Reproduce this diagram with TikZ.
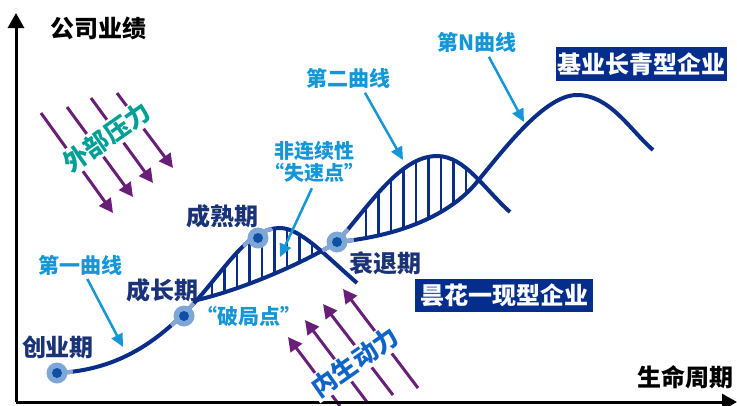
\documentclass[tikz,border=0pt]{standalone}
\usepackage{fontspec}
\setmainfont{Noto Sans CJK SC}
\usetikzlibrary{arrows.meta}

\definecolor{curveblue}{RGB}{10,45,135}
\definecolor{fadeblue}{RGB}{140,165,210}
\definecolor{dotlight}{RGB}{125,167,215}
\definecolor{dotdark}{RGB}{15,80,165}
\definecolor{stageblue}{RGB}{25,50,120}
\definecolor{noteblue}{RGB}{20,150,215}
\definecolor{forcepurple}{RGB}{105,30,120}
\definecolor{outerteal}{RGB}{0,160,150}
\definecolor{innerblue}{RGB}{15,100,200}
\definecolor{bannerblue}{RGB}{5,45,140}

% the three S-curves
\newcommand\firstcurve{(57,373) .. controls (120,370) and (160,340) .. (197,300) .. controls (230,262) and (250,228) .. (280,228) .. controls (300,228) and (325,255) .. (357,283)}
\newcommand\secondcurve{(197,300) .. controls (240,290) and (300,265) .. (337,242) .. controls (370,205) and (400,156) .. (437,156) .. controls (465,156) and (485,190) .. (510,212)}
\newcommand\nthcurve{(337,242) .. controls (400,236) and (450,215) .. (477,182) .. controls (505,148) and (545,95) .. (577,95) .. controls (610,95) and (630,130) .. (653,150)}

\begin{document}
\begin{tikzpicture}[x=1pt,y=-1pt,
    curve/.style={draw=curveblue,line width=4pt},
    fade/.style={draw=fadeblue,line width=4pt},
    hatch/.style={draw=curveblue,line width=2.4pt},
    stage/.style={text=stageblue,font=\fontsize{24}{26}\selectfont\bfseries,inner sep=1pt},
    note/.style={text=noteblue,font=\fontsize{21}{23}\selectfont\bfseries,inner sep=1pt,align=center},
    pointer/.style={draw=noteblue,line width=2.5pt,-{Triangle[length=13pt,width=12pt]}},
    force/.style={draw=forcepurple,line width=3pt,-{Triangle[length=14pt,width=14pt]}},
    stamp/.style={fill=white,font=\fontsize{25}{27}\selectfont\bfseries,rotate=35,inner sep=2pt},
    banner/.style={fill=bannerblue,text=white,font=\fontsize{24}{26}\selectfont\bfseries,inner sep=0pt,minimum height=34pt},
    axis/.style={line width=3pt,-{Triangle[length=15pt,width=16pt]}},
    dot/.style={circle,fill=dotlight,minimum size=21pt,inner sep=0pt,
      path picture={\fill[dotdark] (path picture bounding box.center) circle[radius=5pt];}}
  ]
  \useasboundingbox (0,0) rectangle (737,405);

  \coordinate (c1) at (57,373);
  \coordinate (c2) at (184,316);
  \coordinate (c3) at (258,238);
  \coordinate (c4) at (337,242);

  % forces
  \foreach \a/\b/\c/\d in {41/113/113/213,67/107/133/197,91/98/153/183,117/93/173/168}
    \draw[force] (\a,\b) -- (\c,\d);
  \foreach \a/\b/\c/\d in {340/406/288/337,367/402/305/320,393/395/323/304,418/388/343/289}
    \draw[force] (\a,\b) -- (\c,\d);

  % axes
  \coordinate (o) at (16,402);
  \coordinate (ytop) at (16,13);
  \coordinate (xend) at (737,402);
  \draw[axis] (o) -- (ytop);
  \draw[axis] (o) -- (xend);
  \node[font=\fontsize{24}{26}\selectfont\bfseries] (ylab) at (98,28) {公司业绩};
  \node[font=\fontsize{24}{26}\selectfont\bfseries] (xlab) at (685,377) {生命周期};

  % hatching between curves
  \begin{scope}
    \clip (197,300) .. controls (230,262) and (250,228) .. (280,228) .. controls (300,228) and (325,255) .. (357,283) -- (357,420) -- (197,420) -- cycle;
    \clip (197,300) .. controls (240,290) and (300,265) .. (337,242) -- (337,0) -- (197,0) -- cycle;
    \foreach \x in {212,224.5,...,313}
      \draw[hatch] (\x,0) -- (\x,420);
  \end{scope}
  \begin{scope}
    \clip (337,242) .. controls (370,205) and (400,156) .. (437,156) .. controls (465,156) and (485,190) .. (510,212) -- (510,420) -- (337,420) -- cycle;
    \clip (337,242) .. controls (400,236) and (450,215) .. (477,182) .. controls (505,148) and (545,95) .. (577,95) -- (577,0) -- (337,0) -- cycle;
    \foreach \x in {366,378.5,...,467}
      \draw[hatch] (\x,0) -- (\x,420);
  \end{scope}

  \draw[curve] \firstcurve;
  \draw[curve] \secondcurve;
  \draw[curve] \nthcurve;

  % lighter parts round the stage points
  \begin{scope}
    \clip (c1) circle[radius=16pt] (c2) circle[radius=16pt] (c3) circle[radius=17pt];
    \draw[fade] \firstcurve;
  \end{scope}
  \begin{scope}
    \clip (c4) circle[radius=17pt];
    \draw[fade] \secondcurve;
    \draw[fade] \nthcurve;
  \end{scope}

  \node[dot] (p1) at (c1) {};
  \node[dot] (p2) at (c2) {};
  \node[dot] (p3) at (c3) {};
  \node[dot] (p4) at (c4) {};

  \node[stage] (s1) at (58,347) {创业期};
  \node[stage] (s2) at (162,290) {成长期};
  \node[stage] (s3) at (222,216) {成熟期};
  \node[stage] (s4) at (385,263) {衰退期};

  \node[note] (n1) at (80,265) {第一曲线};
  \node[note,anchor=west] (n2) at (195,316) {“破局点”};
  \node[note,font=\fontsize{20}{22}\selectfont\bfseries] (n3) at (314,162) {非连续性\\“失速点”};
  \node[note] (n4) at (348,78) {第二曲线};
  \node[note] (n5) at (477,42) {第N曲线};

  \coordinate (n1tip) at (123,347);
  \coordinate (n3tip) at (280,257);
  \coordinate (n4tip) at (403,160);
  \coordinate (n5tip) at (524,122);
  \draw[pointer,shorten <=3pt] (n1) -- (n1tip);
  \draw[pointer,shorten <=5pt] (n3.south) -- (n3tip);
  \draw[pointer,shorten <=4pt] ([xshift=15pt]n4.south) -- (n4tip);
  \draw[pointer,shorten <=4pt] ([xshift=10pt]n5.south) -- (n5tip);

  \node[stamp,text=outerteal] (f1) at (107,137) {外部压力};
  \node[stamp,text=innerblue] (f2) at (355,362) {内生动力};

  \node[banner,minimum width=171pt] (b1) at (641.5,64) {基业长青型企业};
  \node[banner,minimum width=178pt,minimum height=33pt] (b2) at (504,295.5) {昙花一现型企业};
\end{tikzpicture}
\end{document}
